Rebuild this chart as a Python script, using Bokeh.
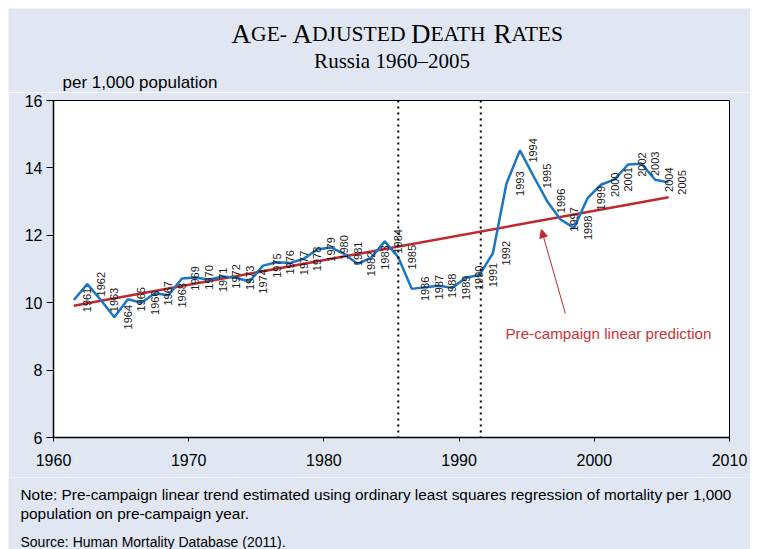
from bokeh.plotting import figure
from bokeh.layouts import column
from bokeh.models import Span, Label, Arrow, NormalHead, FixedTicker, ColumnDataSource, Range1d
from bokeh.embed import file_html
from bokeh.resources import INLINE
from bokeh.core.properties import value

# ---------------- data ----------------
years = list(range(1961, 2006))
death_rate = [10.08, 10.55, 10.08, 9.57, 10.10, 10.00, 10.28, 10.22, 10.72, 10.75,
              10.68, 10.78, 10.74, 10.63, 11.10, 11.20, 11.18, 11.30, 11.58, 11.64,
              11.45, 11.15, 11.34, 11.82, 11.35, 10.41, 10.46, 10.50, 10.44, 10.74,
              10.82, 11.47, 13.53, 14.52, 13.76, 13.02, 12.47, 12.22, 13.10, 13.50,
              13.66, 14.10, 14.12, 13.65, 13.57]
trend_years = [1961, 2005]
trend_rate = [9.91, 13.13]
campaign_marks = [1985.5, 1991.6]
x_ticks = [1960, 1970, 1980, 1990, 2000, 2010]
y_ticks = [6, 8, 10, 12, 14, 16]

title_pieces = [("A", True), ("GE-", False), (" ", False), ("A", True), ("DJUSTED", False),
                (" ", False), ("D", True), ("EATH", False), (" ", False), ("R", True), ("ATES", False)]
subtitle = "Russia 1960\u20132005"
y_unit = "per 1,000 population"
note_lines = ["Note: Pre-campaign linear trend estimated using ordinary least squares regression of mortality per 1,000",
              "population on pre-campaign year."]
source_text = "Source: Human Mortality Database (2011)."
annot_text = "Pre-campaign linear prediction"

# ---------------- style ----------------
BG = "#E0E7F3"
BLUE = "#1A75C6"
RED = "#C0282D"
RED_TXT = "#C8363A"
SANS = "Liberation Sans"
SERIF = "Liberation Serif"
W = 742


def text_panel(height):
    f = figure(width=W, height=height, x_range=Range1d(0, W), y_range=Range1d(height, 0),
               output_backend="svg", toolbar_location=None, min_border=0,
               min_border_left=0, min_border_right=0, min_border_top=0, min_border_bottom=0,
               background_fill_color=BG, border_fill_color=BG, outline_line_color=None,
               frame_align=False)
    f.axis.visible = False
    f.grid.visible = False
    return f


def put(f, x, y, text, size, font, align="left", baseline="middle", color="black"):
    f.text([x], [y], text=[text], text_align=align, text_baseline=baseline,
           text_font=value(font), text_font_size=f"{size}px", text_color=color)


# ---------------- header ----------------
header = text_panel(84)
TIMES = {"A": 722, "G": 722, "E": 611, "-": 333, " ": 250, "D": 722, "J": 389, "U": 722,
         "S": 556, "T": 611, "H": 722, "R": 667}
BIG, SMALL = 27, 21.6
widths = [sum(TIMES[c] for c in t) * (BIG if big else SMALL) / 1000 for t, big in title_pieces]
xpos = 390 - sum(widths) / 2
for (t, big), w in zip(title_pieces, widths):
    if t.strip():
        put(header, xpos, 25, t, BIG if big else SMALL, SERIF, baseline="alphabetic")
    xpos += w
put(header, 383.5, 52, subtitle, 21, SERIF, align="center")
put(header, 54, 74, y_unit, 17, SANS)

# ---------------- main plot ----------------
p = figure(width=W, height=385, x_range=Range1d(1960, 2010), y_range=Range1d(6, 16),
           output_backend="svg", toolbar_location=None,
           min_border_left=45, min_border_right=21, min_border_top=8, min_border_bottom=40,
           background_fill_color="white", border_fill_color=BG, frame_align=False)
p.outline_line_color = "black"
p.outline_line_width = 1
p.grid.visible = False

p.xaxis.ticker = FixedTicker(ticks=x_ticks)
p.yaxis.ticker = FixedTicker(ticks=y_ticks)
for ax in (p.xaxis[0], p.yaxis[0]):
    ax.axis_line_color = "black"
    ax.axis_line_width = 1.5
    ax.major_tick_line_color = "black"
    ax.minor_tick_line_color = None
    ax.major_tick_in = 0
    ax.major_label_text_font = SANS
    ax.major_label_text_font_size = "16px"
    ax.major_label_text_color = "black"
p.xaxis.major_tick_out = 4
p.xaxis.major_label_standoff = 12
p.yaxis.major_tick_out = 7
p.yaxis.major_label_standoff = 4

for m in campaign_marks:
    p.add_layout(Span(location=m, dimension="height", line_color="black",
                      line_width=2, line_dash="2 4"))

p.line([t + 0.5 for t in trend_years], trend_rate, line_color=RED, line_width=2.5)

src = ColumnDataSource(dict(x=[y + 0.5 for y in years], y=death_rate,
                            lx=[y + 1.5 for y in years], lab=[str(y) for y in years]))
p.line("x", "y", source=src, line_color=BLUE, line_width=2.5)
p.text("lx", "y", text="lab", source=src, angle=1.5707963, text_align="center",
       text_baseline="middle", text_font=value(SANS), text_font_size="11px", text_color="#1a1a1a")

p.add_layout(Arrow(end=NormalHead(size=8, fill_color=RED, line_color=RED),
                   x_start=1997.86, y_start=9.68, x_end=1996.09, y_end=12.17,
                   line_color=RED, line_width=1))
p.add_layout(Label(x=1993.43, y=9.08, text=annot_text, text_baseline="middle",
                   text_color=RED_TXT, text_font=SANS, text_font_size="15.2px"))

# ---------------- footer ----------------
footer = text_panel(72)
put(footer, 12, 17, note_lines[0], 15.4, SANS)
put(footer, 12, 36, note_lines[1], 15.4, SANS)
put(footer, 12, 64, source_text, 14, SANS)

layout = column(header, p, footer, spacing=0, margin=(8, 0, 0, 8))
open("out.html", "w").write(file_html(layout, INLINE))
